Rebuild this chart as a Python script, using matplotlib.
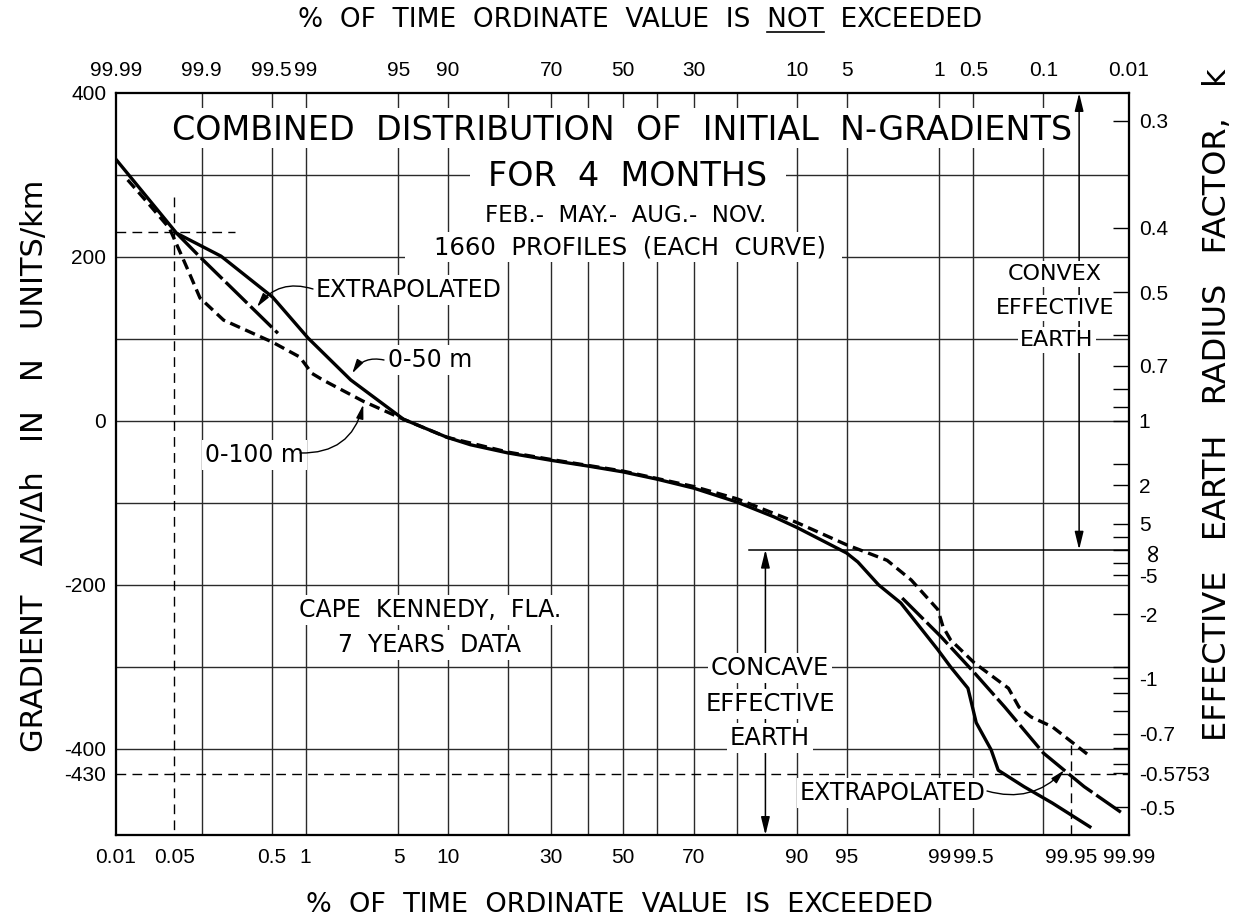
import math
import numpy as np
import matplotlib
matplotlib.use("Agg")
import matplotlib.pyplot as plt
from matplotlib import font_manager
from matplotlib.patches import Rectangle
from matplotlib.lines import Line2D

# ---------------- data ----------------
# bottom axis: % of time ordinate value is exceeded ; y: gradient dN/dh (N units/km)
p_0_50 = [0.0102, 0.053, 0.16, 0.51, 1.05, 2.3, 5.4, 9.9, 13.2, 20, 30, 40, 50, 60, 70,
          80, 86.7, 90, 95, 95.8, 97.0, 97.95, 98.97, 99.2, 99.44, 99.53, 99.66, 99.71,
          99.84, 99.92, 99.97]
g_0_50 = [318, 229, 201, 151, 101, 50, 2, -20, -29, -39, -48, -55, -62, -71, -82,
          -99, -117, -130, -161, -172, -200, -222, -279, -300, -326, -368, -401, -426,
          -446, -466, -495]

p_0_100 = [0.014, 0.026, 0.044, 0.058, 0.075, 0.096, 0.17, 0.51, 0.89, 1.13, 1.39, 2.85,
           5.4, 9.9, 20, 30, 50, 70, 80, 90, 95, 97.4, 98.3, 98.97, 99.07, 99.2, 99.51,
           99.77, 99.82, 99.865, 99.92, 99.971]
g_0_100 = [294, 263, 235, 206, 178, 150, 123, 96, 78, 58, 50, 24,
           2, -20, -38, -47, -61, -80, -95, -124, -151, -170, -194, -230, -251, -267, -295,
           -326, -349, -361, -373, -410]

p_extrap_upper = [0.053, 0.096, 0.27, 0.57]
g_extrap_upper = [229, 200, 148, 107]
p_extrap_lower = [98.0, 99.03, 99.51, 99.75, 99.90, 99.965, 99.9885]
g_extrap_lower = [-216, -263, -307, -349, -405, -446, -480]

bottom_tick_p = [0.01, 0.05, 0.5, 1, 5, 10, 30, 50, 70, 90, 95, 99, 99.5, 99.95, 99.99]
bottom_tick_labels = ["0.01", "0.05", "0.5", "1", "5", "10", "30", "50", "70", "90",
                      "95", "99", "99.5", "99.95", "99.99"]
top_tick_p = [0.01, 0.1, 0.5, 1, 5, 10, 30, 50, 70, 90, 95, 99, 99.5, 99.9, 99.99]
top_tick_labels = ["99.99", "99.9", "99.5", "99", "95", "90", "70", "50", "30", "10",
                   "5", "1", "0.5", "0.1", "0.01"]
grid_p = [0.1, 0.5, 1, 5, 10, 20, 30, 40, 50, 60, 70, 80, 90, 95, 99, 99.5, 99.9]
grid_g = [-400, -300, -200, -100, 0, 100, 200, 300]
left_ticks = [400, 200, 0, -200, -400, -430]
left_labels = ["400", "200", "0", "-200", "-400", "-430"]

k_major = [0.3, 0.4, 0.5, 0.7, 1, 2, 5, np.inf, -5, -2, -1, -0.7, -0.5753, -0.5]
k_major_labels = ["0.3", "0.4", "0.5", "0.7", "1", "2", "5", "\u221e", "-5", "-2", "-1",
                  "-0.7", "-0.5753", "-0.5"]
k_minor = [0.6, 0.8, 0.9, 1.5, 10, -10, -1.1, -0.9, -0.8, -0.65, -0.6]
K_CONST = 157.0          # k = 157 / (157 + dN/dh)

g_limit = -430           # dashed line (k = -0.5753)
p_ref_low, g_ref_low = 0.05, 231
p_ref_high = 99.95
p_convex_arrow = 99.96
p_concave_arrow = 85.3
p_inf_line_start = 82.3

X_MIN, X_MAX = 0.01, 99.99
Y_MIN, Y_MAX = -505, 400

# ---------------- probability scale ----------------
_a = [-3.969683028665376e+01, 2.209460984245205e+02, -2.759285104469687e+02,
      1.383577518672690e+02, -3.066479806614716e+01, 2.506628277459239e+00]
_b = [-5.447609879822406e+01, 1.615858368580409e+02, -1.556989798598866e+02,
      6.680131188771972e+01, -1.328068155833025e+01]
_c = [-7.784894002430293e-03, -3.223964580411365e-01, -2.400758277161838e+00,
      -2.549732539343734e+00, 4.374664141464968e+00, 2.938163982698783e+00]
_d = [7.784695709041462e-03, 3.224671290700398e-01, 2.445134137142996e+00,
      3.754408661907416e+00]


def _ndtri(p):
    p = np.clip(np.asarray(p, dtype=float), 1e-12, 1 - 1e-12)
    plow = 0.02425
    q = p - 0.5
    r = q * q
    central = (((((_a[0]*r+_a[1])*r+_a[2])*r+_a[3])*r+_a[4])*r+_a[5])*q / \
              (((((_b[0]*r+_b[1])*r+_b[2])*r+_b[3])*r+_b[4])*r+1)
    ql = np.sqrt(-2*np.log(np.minimum(p, 1-p)))
    tail = (((((_c[0]*ql+_c[1])*ql+_c[2])*ql+_c[3])*ql+_c[4])*ql+_c[5]) / \
           ((((_d[0]*ql+_d[1])*ql+_d[2])*ql+_d[3])*ql+1)
    out = np.where(p < plow, tail, np.where(p > 1 - plow, -tail, central))
    return out


_erf = np.frompyfunc(math.erf, 1, 1)


def fwd(x):
    return _ndtri(np.asarray(x, dtype=float) / 100.0)


def inv(z):
    z = np.asarray(z, dtype=float)
    return 50.0 * (1.0 + _erf(z / math.sqrt(2.0)).astype(float))


def k_to_g(k):
    return K_CONST / np.asarray(k, dtype=float) - K_CONST


# ---------------- fonts ----------------
_names = {f.name for f in font_manager.fontManager.ttflist}
MAIN = 'DejaVu Sans'
if 'Liberation Sans Narrow' in _names:
    TICKFONT, TICK_FS = 'Liberation Sans Narrow', 18
elif 'Liberation Sans' in _names:
    TICKFONT, TICK_FS = 'Liberation Sans', 15
else:
    TICKFONT, TICK_FS = 'DejaVu Sans', 13.5
plt.rcParams['font.family'] = [TICKFONT, 'DejaVu Sans']
plt.rcParams['axes.unicode_minus'] = False

W, H = 1235, 922
fig = plt.figure(figsize=(W/100, H/100), dpi=100)
L, R, T, B = 116, 1129, 93, 835
ax = fig.add_axes([L/W, 1-B/H, (R-L)/W, (B-T)/H])
ax.set_xscale('function', functions=(fwd, inv))
ax.set_xlim(X_MIN, X_MAX)
ax.set_ylim(Y_MIN, Y_MAX)

GRID_C = '#2a2a2a'
for p in grid_p:
    ax.axvline(p, color=GRID_C, lw=1.0, zorder=1)
for g in grid_g:
    ax.axhline(g, color=GRID_C, lw=1.0, zorder=1)

# thin dashed reference lines
dash_thin = (0, (7, 4.5))
ax.plot([X_MIN, X_MAX], [g_limit, g_limit], color='k', lw=1.0, ls=dash_thin, zorder=2)
ax.plot([p_ref_low, p_ref_low], [273, Y_MIN], color='k', lw=1.0, ls=dash_thin, zorder=2)
ax.plot([X_MIN, 0.22], [g_ref_low, g_ref_low], color='k', lw=1.0, ls=dash_thin, zorder=2)
ax.plot([p_ref_high, p_ref_high], [-395, Y_MIN], color='k', lw=1.0, ls=dash_thin, zorder=2)

# k = infinity line
g_inf = float(k_to_g(np.inf))
ax.plot([p_inf_line_start, X_MAX], [g_inf, g_inf], color='k', lw=1.1, zorder=2)

# convex / concave arrows
aprops = dict(arrowstyle='<|-|>,head_length=0.9,head_width=0.22', color='k', lw=1.1,
              shrinkA=0, shrinkB=0, mutation_scale=12)
ax.annotate('', xy=(p_convex_arrow, Y_MAX), xytext=(p_convex_arrow, g_inf),
            arrowprops=aprops, zorder=2)
ax.annotate('', xy=(p_concave_arrow, Y_MIN), xytext=(p_concave_arrow, g_inf),
            arrowprops=aprops, zorder=2)

# curves
LW = 2.4
ax.plot(p_0_50, g_0_50, color='k', lw=LW, solid_joinstyle='round', zorder=4)
ax.plot(p_0_100, g_0_100, color='k', lw=LW, ls=(0, (3.2, 1.7)), zorder=4)
ax.plot(p_extrap_upper, g_extrap_upper, color='k', lw=LW, ls=(0, (9, 1.4)), zorder=4)
ax.plot(p_extrap_lower, g_extrap_lower, color='k', lw=LW, ls=(0, (9, 1.4)), zorder=4)


def F(x, y):
    return (x / W, 1 - y / H)


def mask(x0, y0, x1, y1):
    xa, ya = F(x0, y1)
    ax.add_patch(Rectangle((xa, ya), (x1-x0)/W, (y1-y0)/H, transform=fig.transFigure,
                           fc='white', ec='none', zorder=2.5))


def ftext(x, y, s, size, ha='center', boxed=True):
    bb = dict(boxstyle='square,pad=0.12', fc='white', ec='none') if boxed else None
    ax.text(*F(x, y), s, transform=fig.transFigure, fontsize=size, ha=ha, va='center',
            family=MAIN, zorder=3, bbox=bb)


# masks around the title block
mask(165, 108, 1073, 148)
mask(470, 148, 786, 232)
mask(405, 232, 842, 262)

ftext(622, 130, "COMBINED  DISTRIBUTION  OF  INITIAL  N-GRADIENTS", 24, boxed=False)
ftext(628, 176, "FOR  4  MONTHS", 24, boxed=False)
ftext(626, 215, "FEB.-  MAY.-  AUG.-  NOV.", 16.5, boxed=False)
ftext(630, 248, "1660  PROFILES  (EACH  CURVE)", 17.5, boxed=False)

ftext(316, 290, "EXTRAPOLATED", 17, ha='left')
ftext(388, 360, "0-50 m", 17, ha='left')
ftext(205, 455, "0-100 m", 17, ha='left')
ftext(1055, 274, "CONVEX", 16)
ftext(1055, 308, "EFFECTIVE", 16)
ftext(1057, 340, "EARTH", 16)
ftext(430, 610, "CAPE  KENNEDY,  FLA.", 17)
ftext(430, 645, "7  YEARS  DATA", 17)
ftext(770, 668, "CONCAVE", 17.5)
ftext(770, 704, "EFFECTIVE", 17.5)
ftext(770, 738, "EARTH", 17.5)
ftext(800, 793, "EXTRAPOLATED", 17, ha='left')

# curved leader arrows (start at labels, end at curves)
lprops = dict(arrowstyle='-|>,head_length=0.7,head_width=0.18', color='k', lw=1.0,
              shrinkA=0, shrinkB=0, mutation_scale=12)
ax.annotate('', xy=(0.364, 139), xytext=F(313, 289), textcoords='figure fraction',
            arrowprops=dict(lprops, connectionstyle='arc3,rad=0.35'), zorder=3)
ax.annotate('', xy=(2.36, 58), xytext=F(384, 360), textcoords='figure fraction',
            arrowprops=dict(lprops, connectionstyle='arc3,rad=0.35'), zorder=3)
ax.annotate('', xy=(2.85, 20), xytext=F(300, 453), textcoords='figure fraction',
            arrowprops=dict(lprops, connectionstyle='arc3,rad=0.4'), zorder=3)
ax.annotate('', xy=(99.941, -426), xytext=F(987, 791), textcoords='figure fraction',
            arrowprops=dict(lprops, connectionstyle='arc3,rad=0.3'), zorder=3)

# ---------------- axes / ticks ----------------
ax.set_xticks(bottom_tick_p)
ax.set_xticklabels(bottom_tick_labels)
ax.set_yticks(left_ticks)
ax.set_yticklabels(left_labels)
ax.tick_params(axis='x', which='both', length=0, pad=9, labelsize=TICK_FS)
ax.tick_params(axis='y', which='both', length=0, pad=7, labelsize=TICK_FS)
ax.minorticks_off()

ax_t = ax.twiny()
ax_t.set_xscale('function', functions=(fwd, inv))
ax_t.set_xlim(X_MIN, X_MAX)
ax_t.set_xticks(top_tick_p)
ax_t.set_xticklabels(top_tick_labels)
ax_t.tick_params(axis='x', which='both', length=0, pad=9, labelsize=TICK_FS)
ax_t.minorticks_off()

ax_r = ax.twinx()
ax_r.set_ylim(Y_MIN, Y_MAX)
ax_r.set_yticks(k_to_g(k_major))
ax_r.set_yticklabels(k_major_labels)
ax_r.set_yticks(k_to_g(k_minor), minor=True)
ax_r.tick_params(axis='y', which='both', direction='in', length=11.5, width=1.0,
                 pad=7, labelsize=TICK_FS)
for lab in ax_r.get_yticklabels():
    if lab.get_text() == "\u221e":
        lab.set_rotation(90)
        lab.set_fontfamily(['DejaVu Sans'])
        lab.set_fontsize(19)

for a in (ax, ax_t, ax_r):
    for s in a.spines.values():
        s.set_linewidth(1.5)
        s.set_color('k')

# axis titles
top_title = "%  OF  TIME  ORDINATE  VALUE  IS  NOT  EXCEEDED"
tt = fig.text(*F(640, 20), top_title, fontsize=19, ha='center', va='center', family=MAIN)
fig.text(*F(620, 905), "%  OF  TIME  ORDINATE  VALUE  IS  EXCEEDED",
         fontsize=19.5, ha='center', va='center', family=MAIN)
fig.text(*F(35, 466), "GRADIENT   \u0394N/\u0394h   IN   N   UNITS/km",
         fontsize=22, ha='center', va='center', rotation=90, family=MAIN)
fig.text(*F(1218, 405), "EFFECTIVE   EARTH   RADIUS   FACTOR,   k",
         fontsize=23, ha='center', va='center', rotation=90, family=MAIN)

# underline "NOT" in the top title
renderer = fig.canvas.get_renderer()
bb_full = tt.get_window_extent(renderer)
probe = fig.text(0, 0, top_title[:top_title.index("NOT") + 3], fontsize=19, family=MAIN)
w_upto = probe.get_window_extent(renderer).width
probe.set_text("NOT")
w_not = probe.get_window_extent(renderer).width
probe.remove()
x_start = bb_full.x0 + w_upto - w_not
y_line = bb_full.y0 + 1
fig.add_artist(Line2D([x_start / W, (x_start + w_not) / W], [y_line / H, y_line / H],
                      transform=fig.transFigure, color='k', lw=1.2))

fig.savefig("out.png", dpi=100, facecolor='white')
